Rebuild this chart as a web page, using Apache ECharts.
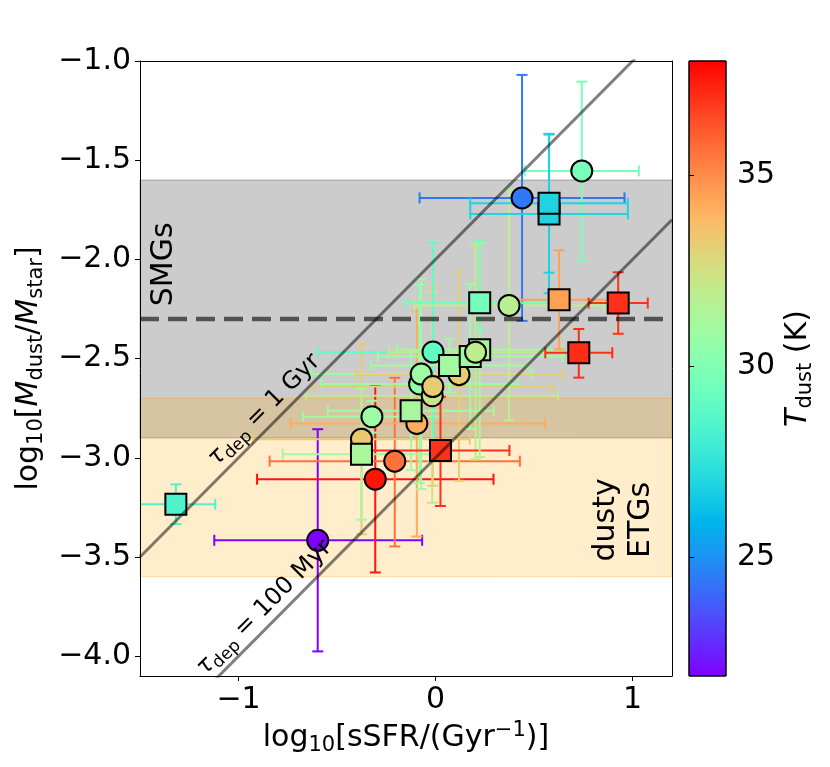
<!DOCTYPE html>
<html><head><meta charset="utf-8">
<script src="https://cdn.jsdelivr.net/npm/echarts@6/dist/echarts.min.js"></script>
<style>html,body{margin:0;padding:0;background:#fff}#c{width:830px;height:767px}</style>
</head><body><div id="c"></div>
<script>
const FONT = 'DejaVu Sans';
// ---- circles ----
const circX   = [-0.598, -0.306, -0.207, -0.376, -0.323, -0.095, -0.081, -0.073, -0.017, -0.014, -0.013, 0.119, 0.203, 0.373, 0.439, 0.742];
const circY   = [-3.416, -3.108, -3.017, -2.906, -2.793, -2.827, -2.628, -2.578, -2.687, -2.641, -2.467, -2.581, -2.468, -2.232, -1.690, -1.554];
const circT   = [21.9, 37.6, 35.6, 33.3, 30.9, 34.2, 30.6, 30.9, 32.3, 33.2, 29.0, 33.2, 31.9, 31.8, 24.4, 29.7];
const circXLo = [0.525, 0.60, 0.635, 0.55, 0.35, 0.64, 0.50, 0.56, 0.64, 0.61, 0.585, 0.525, 0.44, 0.48, 0.52, 0.29];
const circXHi = [0.530, 0.60, 0.635, 0.55, 0.35, 0.65, 0.50, 0.56, 0.64, 0.61, 0.585, 0.525, 0.44, 0.48, 0.52, 0.29];
const circYLo = [0.56, 0.47, 0.43, 0.48, 0.08, 0.57, 0.50, 0.58, 0.54, 0.50, 0.55, 0.535, 0.54, 0.58, 0.62, 0.45];
const circYHi = [0.56, 0.47, 0.42, 0.48, 0.08, 0.57, 0.50, 0.48, 0.52, 0.50, 0.55, 0.52, 0.54, 0.58, 0.62, 0.45];
// circles drawn above the squares
const circFront = [12];
// ---- squares ----
const sqX   = [-1.318, -0.376, -0.124, 0.025, 0.071, 0.176, 0.224, 0.224, 0.576, 0.576, 0.627, 0.927, 0.727];
const sqY   = [-3.234, -2.982, -2.763, -2.963, -2.535, -2.490, -2.456, -2.219, -1.771, -1.717, -2.204, -2.220, -2.471];
const sqT   = [28.4, 31.3, 31.2, 37.0, 31.0, 31.0, 31.4, 29.6, 26.9, 26.9, 34.5, 37.0, 37.1];
const sqXLo = [0.20, 0.40, 0.423, 0.35, 0.40, 0.47, 0.42, 0.373, 0.40, 0.40, 0.25, 0.15, 0.17];
const sqXHi = [0.20, 0.40, 0.420, 0.35, 0.40, 0.47, 0.42, 0.373, 0.40, 0.40, 0.25, 0.15, 0.17];
const sqYLo = [0.10, 0.33, 0.30, 0.28, 0.135, 0.365, 0.54, 0.14, 0.40, 0.35, 0.25, 0.155, 0.125];
const sqYHi = [0.10, 0.33, 0.30, 0.27, 0.135, 0.365, 0.54, 0.31, 0.40, 0.35, 0.25, 0.155, 0.12];
// ---- reference values ----
const xLim = [-1.5, 1.2];
const yLim = [-4.1, -1.0];
const xTicks = [-1, 0, 1];
const yTicks = [-4.0, -3.5, -3.0, -2.5, -2.0, -1.5, -1.0];
const tRange = [21.9, 38.0];
const cbTicks = [25, 30, 35];
const smgLevel = -2.3;
const bandTop = [-1.6, -2.7];
const bandBottom = [-2.9, -3.6];
const tauOffsets = [-2.0, -3.0];
const tauNames = ['1 Gyr', '100 Myr'];

function rainbow(T) {
  const t = Math.min(1, Math.max(0, (T - tRange[0]) / (tRange[1] - tRange[0])));
  const r = Math.min(1, Math.abs(2 * t - 0.5));
  const g = Math.max(0, Math.sin(Math.PI * t));
  const b = Math.max(0, Math.cos(Math.PI * t / 2));
  return 'rgb(' + Math.round(r * 255) + ',' + Math.round(g * 255) + ',' + Math.round(b * 255) + ')';
}
const minus = s => String(s).replace('-', '\u2212');

const errData = [];
circX.forEach((x, i) => errData.push([x, circY[i], circT[i], circXLo[i], circXHi[i], circYLo[i], circYHi[i]]));
sqX.forEach((x, i) => errData.push([x, sqY[i], sqT[i], sqXLo[i], sqXHi[i], sqYLo[i], sqYHi[i]]));
const circItem = i => ({ value: [circX[i], circY[i]], itemStyle: { color: rainbow(circT[i]) } });
const circBackData = circX.map((x, i) => i).filter(i => circFront.indexOf(i) < 0).map(circItem);
const circFrontData = circFront.map(circItem);
const sqData = sqX.map((x, i) => ({ value: [x, sqY[i]], itemStyle: { color: rainbow(sqT[i]) } }));

const bandFill = ['rgba(128,128,128,0.4)', 'rgba(255,165,0,0.2)'];
const bandStroke = ['rgba(110,110,110,0.5)', 'rgba(255,165,0,0.35)'];

function renderBand(params, api) {
  const top = api.value(0), bot = api.value(1);
  const p1 = api.coord([xLim[0], top]), p2 = api.coord([xLim[1], bot]);
  return { type: 'rect', shape: { x: p1[0], y: p1[1], width: p2[0] - p1[0], height: p2[1] - p1[1] },
    style: { fill: bandFill[params.dataIndex], stroke: bandStroke[params.dataIndex], lineWidth: 1 } };
}

function renderErr(params, api) {
  const x = api.value(0), y = api.value(1), T = api.value(2);
  const xl0 = x - api.value(3), xr0 = x + api.value(4), yl0 = y - api.value(5), yh0 = y + api.value(6);
  const xl = Math.max(xLim[0], xl0), xr = Math.min(xLim[1], xr0);
  const yl = Math.max(yLim[0], yl0), yh = Math.min(yLim[1], yh0);
  const c = rainbow(T);
  const st = { stroke: c, lineWidth: 2 };
  const L = api.coord([xl, y]), R = api.coord([xr, y]), B = api.coord([x, yl]), U = api.coord([x, yh]);
  const cap = 5.5;
  const ch = [
    { type: 'line', shape: { x1: L[0], y1: L[1], x2: R[0], y2: R[1] }, style: st },
    { type: 'line', shape: { x1: B[0], y1: B[1], x2: U[0], y2: U[1] }, style: st }
  ];
  if (xl0 >= xLim[0]) ch.push({ type: 'line', shape: { x1: L[0], y1: L[1] - cap, x2: L[0], y2: L[1] + cap }, style: st });
  if (xr0 <= xLim[1]) ch.push({ type: 'line', shape: { x1: R[0], y1: R[1] - cap, x2: R[0], y2: R[1] + cap }, style: st });
  if (yl0 >= yLim[0]) ch.push({ type: 'line', shape: { x1: B[0] - cap, y1: B[1], x2: B[0] + cap, y2: B[1] }, style: st });
  if (yh0 <= yLim[1]) ch.push({ type: 'line', shape: { x1: U[0] - cap, y1: U[1], x2: U[0] + cap, y2: U[1] }, style: st });
  return { type: 'group', children: ch };
}

function renderColorbar(params, api) {
  const cs = params.coordSys;
  const stops = [];
  for (let i = 0; i <= 60; i++) stops.push({ offset: i / 60, color: rainbow(tRange[1] - (tRange[1] - tRange[0]) * i / 60) });
  return { type: 'rect', shape: { x: cs.x, y: cs.y, width: cs.width, height: cs.height },
    style: { fill: { type: 'linear', x: 0, y: 0, x2: 0, y2: 1, colorStops: stops }, stroke: '#000', lineWidth: 1 } };
}

const rich = {
  s: { fontSize: 21, fontFamily: FONT, lineHeight: 18, verticalAlign: 'bottom', color: '#000' },
  p: { fontSize: 21, fontFamily: FONT, lineHeight: 18, verticalAlign: 'top', color: '#000' },
  i: { fontSize: 30, fontFamily: FONT, fontStyle: 'italic', lineHeight: 36, color: '#000' },
  n: { fontSize: 30, fontFamily: FONT, lineHeight: 36, color: '#000' }
};
const richSmall = {
  i: { fontSize: 24, fontFamily: FONT, fontStyle: 'italic', lineHeight: 30, color: '#000' },
  s: { fontSize: 17, fontFamily: FONT, lineHeight: 15, verticalAlign: 'bottom', color: '#000' },
  n: { fontSize: 24, fontFamily: FONT, lineHeight: 30, color: '#000' }
};

const lblStyle = { fontSize: 30, fontFamily: FONT, color: '#000' };
const markerStyle = { borderColor: '#000', borderWidth: 2, opacity: 1 };

const chart = echarts.init(document.getElementById('c'), null, { renderer: 'canvas' });
const option = {
  animation: false,
  backgroundColor: '#fff',
  grid: [
    { left: 140, top: 61, width: 532, height: 615 },
    { left: 689, top: 61, width: 37, height: 615 }
  ],
  xAxis: [
    { type: 'value', gridIndex: 0, min: xLim[0], max: xLim[1], position: 'bottom', z: 10,
      splitLine: { show: false },
      axisLine: { show: true, onZero: false, lineStyle: { color: '#000', width: 1 } },
      axisTick: { show: true, length: 5, lineStyle: { color: '#000' }, customValues: xTicks },
      axisLabel: { ...lblStyle, margin: 9, customValues: xTicks, formatter: v => minus(v) },
      name: 'log{s|10}{n|[sSFR/(Gyr}{p|\u22121}{n|)]}', nameLocation: 'middle', nameGap: 42,
      nameTextStyle: { ...lblStyle, lineHeight: 36, rich: rich } },
    { type: 'value', gridIndex: 0, min: xLim[0], max: xLim[1], position: 'top', z: 10,
      splitLine: { show: false }, axisTick: { show: false }, axisLabel: { show: false },
      axisLine: { show: true, onZero: false, lineStyle: { color: '#000', width: 1 } } },
    { type: 'value', gridIndex: 1, min: 0, max: 1, show: false }
  ],
  yAxis: [
    { type: 'value', gridIndex: 0, min: yLim[0], max: yLim[1], position: 'left', z: 10,
      splitLine: { show: false },
      axisLine: { show: true, onZero: false, lineStyle: { color: '#000', width: 1 } },
      axisTick: { show: true, length: 5, lineStyle: { color: '#000' }, customValues: yTicks },
      axisLabel: { ...lblStyle, margin: 9, customValues: yTicks, formatter: v => minus(v.toFixed(1)) },
      name: 'log{s|10}{n|[}{i|M}{s|dust}{n|/}{i|M}{s|star}{n|]}', nameLocation: 'middle', nameRotate: 90, nameGap: 86,
      nameTextStyle: { ...lblStyle, lineHeight: 36, rich: rich } },
    { type: 'value', gridIndex: 0, min: yLim[0], max: yLim[1], position: 'right', z: 10,
      splitLine: { show: false }, axisTick: { show: false }, axisLabel: { show: false },
      axisLine: { show: true, onZero: false, lineStyle: { color: '#000', width: 1 } } },
    { type: 'value', gridIndex: 1, min: tRange[0], max: tRange[1], position: 'right', z: 10,
      splitLine: { show: false }, axisLine: { show: false },
      axisTick: { show: true, length: 5, lineStyle: { color: '#000' }, customValues: cbTicks },
      axisLabel: { ...lblStyle, margin: 11, customValues: cbTicks },
      name: '{i|T}{s|dust}{n| (K)}', nameLocation: 'middle', nameRotate: 90, nameGap: 54,
      nameTextStyle: { ...lblStyle, lineHeight: 36, rich: rich } }
  ],
  series: [
    { type: 'custom', xAxisIndex: 0, yAxisIndex: 0, z: 1, silent: true,
      data: bandTop.map((t, i) => [t, bandBottom[i]]), renderItem: renderBand },
    { type: 'custom', xAxisIndex: 0, yAxisIndex: 0, z: 3, silent: true,
      data: errData, renderItem: renderErr },
    { type: 'scatter', xAxisIndex: 0, yAxisIndex: 0, z: 4, symbol: 'circle', symbolSize: 21,
      itemStyle: markerStyle, data: circBackData },
    { type: 'scatter', xAxisIndex: 0, yAxisIndex: 0, z: 4, symbol: 'rect', symbolSize: 21,
      itemStyle: markerStyle, data: sqData },
    { type: 'scatter', xAxisIndex: 0, yAxisIndex: 0, z: 4, symbol: 'circle', symbolSize: 21,
      itemStyle: markerStyle, data: circFrontData },
    { type: 'line', xAxisIndex: 0, yAxisIndex: 0, z: 5, silent: true, showSymbol: false, clip: true,
      data: [[xLim[0], smgLevel], [xLim[1], smgLevel]],
      lineStyle: { color: 'rgba(0,0,0,0.6)', width: 4.5, type: [19, 9] } },
    ...tauOffsets.map(off => ({
      type: 'line', xAxisIndex: 0, yAxisIndex: 0, z: 5, silent: true, showSymbol: false, clip: true,
      data: [[xLim[0], xLim[0] + off], [xLim[1], xLim[1] + off]],
      lineStyle: { color: 'rgba(0,0,0,0.5)', width: 3 } })),
    { type: 'custom', xAxisIndex: 2, yAxisIndex: 2, z: 2, silent: true,
      data: [[0, tRange[0]]], renderItem: renderColorbar }
  ]
};
chart.setOption(option);

const P = (x, y) => chart.convertToPixel({ xAxisIndex: 0, yAxisIndex: 0 }, [x, y]);
const tauPos = [[-0.869, -2.759], [-0.869, -3.756]];
const gText = [];
tauOffsets.forEach((off, i) => {
  const p = P(tauPos[i][0], tauPos[i][1]);
  gText.push({ type: 'text', x: p[0], y: p[1], rotation: Math.PI / 4, z: 100,
    style: { text: '{i|\u03c4}{s|dep}{n| = ' + tauNames[i] + '}', rich: richSmall, align: 'center', verticalAlign: 'middle',
      fontSize: 24, fontFamily: FONT, fill: '#000' } });
});
const smgP = P(-1.377, -2.025);
gText.push({ type: 'text', x: smgP[0], y: smgP[1], rotation: Math.PI / 2, z: 100,
  style: { text: 'SMGs', align: 'center', verticalAlign: 'middle', fontSize: 30, fontFamily: FONT, fill: '#000' } });
const etgP = P(0.955, -3.313);
gText.push({ type: 'text', x: etgP[0], y: etgP[1], rotation: Math.PI / 2, z: 100,
  style: { text: 'dusty\nETGs', align: 'center', verticalAlign: 'middle', fontSize: 30, lineHeight: 35, fontFamily: FONT, fill: '#000' } });
chart.setOption({ graphic: gText });
</script></body></html>
